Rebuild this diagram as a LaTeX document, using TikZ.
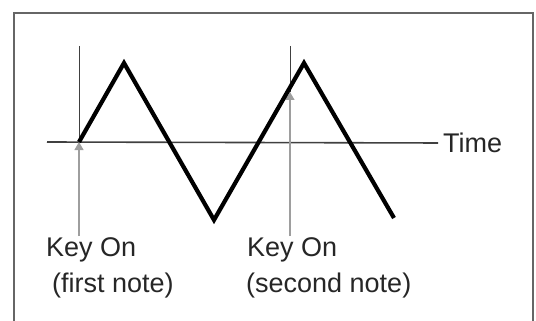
\documentclass[tikz,border=0pt]{standalone}
\usepackage{fontspec}
\setmainfont{Liberation Sans}
\usetikzlibrary{arrows.meta, positioning}

\begin{document}
\begin{tikzpicture}[x=1pt, y=-1pt, font=\fontsize{27}{32}\selectfont,
    txt/.style={inner sep=0pt, text=black!85},
    wave/.style={line width=4.2pt, line join=miter},
    keyline/.style={black!38, line width=1.2pt, -{Triangle[width=9pt,length=8pt]}}]
    \useasboundingbox (0,0) rectangle (536,321);
    \draw[black!60, line width=2pt] (14,321) -- (14,13) -- (533,13) -- (533,321);

    % points of the wave
    \coordinate (s)  at (79,142);
    \coordinate (p1) at (124,63);
    \coordinate (t1) at (214,220);
    \coordinate (p2) at (304,63);
    \coordinate (e)  at (394,218);

    \coordinate (a0) at (47,142);
    \node[txt, anchor=west] (time) at (443,143) {Time};

    \coordinate (k1top) at (79,46);
    \coordinate (k2top) at (290,46);
    \coordinate (k2hit) at (290,92);
    \coordinate (k1bot) at (79,236);
    \coordinate (k2bot) at (290,236);

    \node[txt, anchor=west] (key1)  at (46,250) {Key On};
    \node[txt, anchor=west] (note1) at (52,286) {(first note)};
    \node[txt, anchor=west] (key2)  at (247,250) {Key On};
    \node[txt, anchor=west] (note2) at (246,286) {(second note)};

    \draw[black!75, line width=1.6pt, shorten >=5pt] (a0) -- (time.west);
    \draw[black!75, line width=1pt] (k1top) -- (s);
    \draw[black!75, line width=1pt] (k2top) -- (k2hit);

    \draw[keyline] (k1bot) -- (s);
    \draw[keyline] (k2bot) -- (k2hit);

    \draw[wave] (s) -- (p1) -- (t1) -- (p2) -- (e);
\end{tikzpicture}
\end{document}
